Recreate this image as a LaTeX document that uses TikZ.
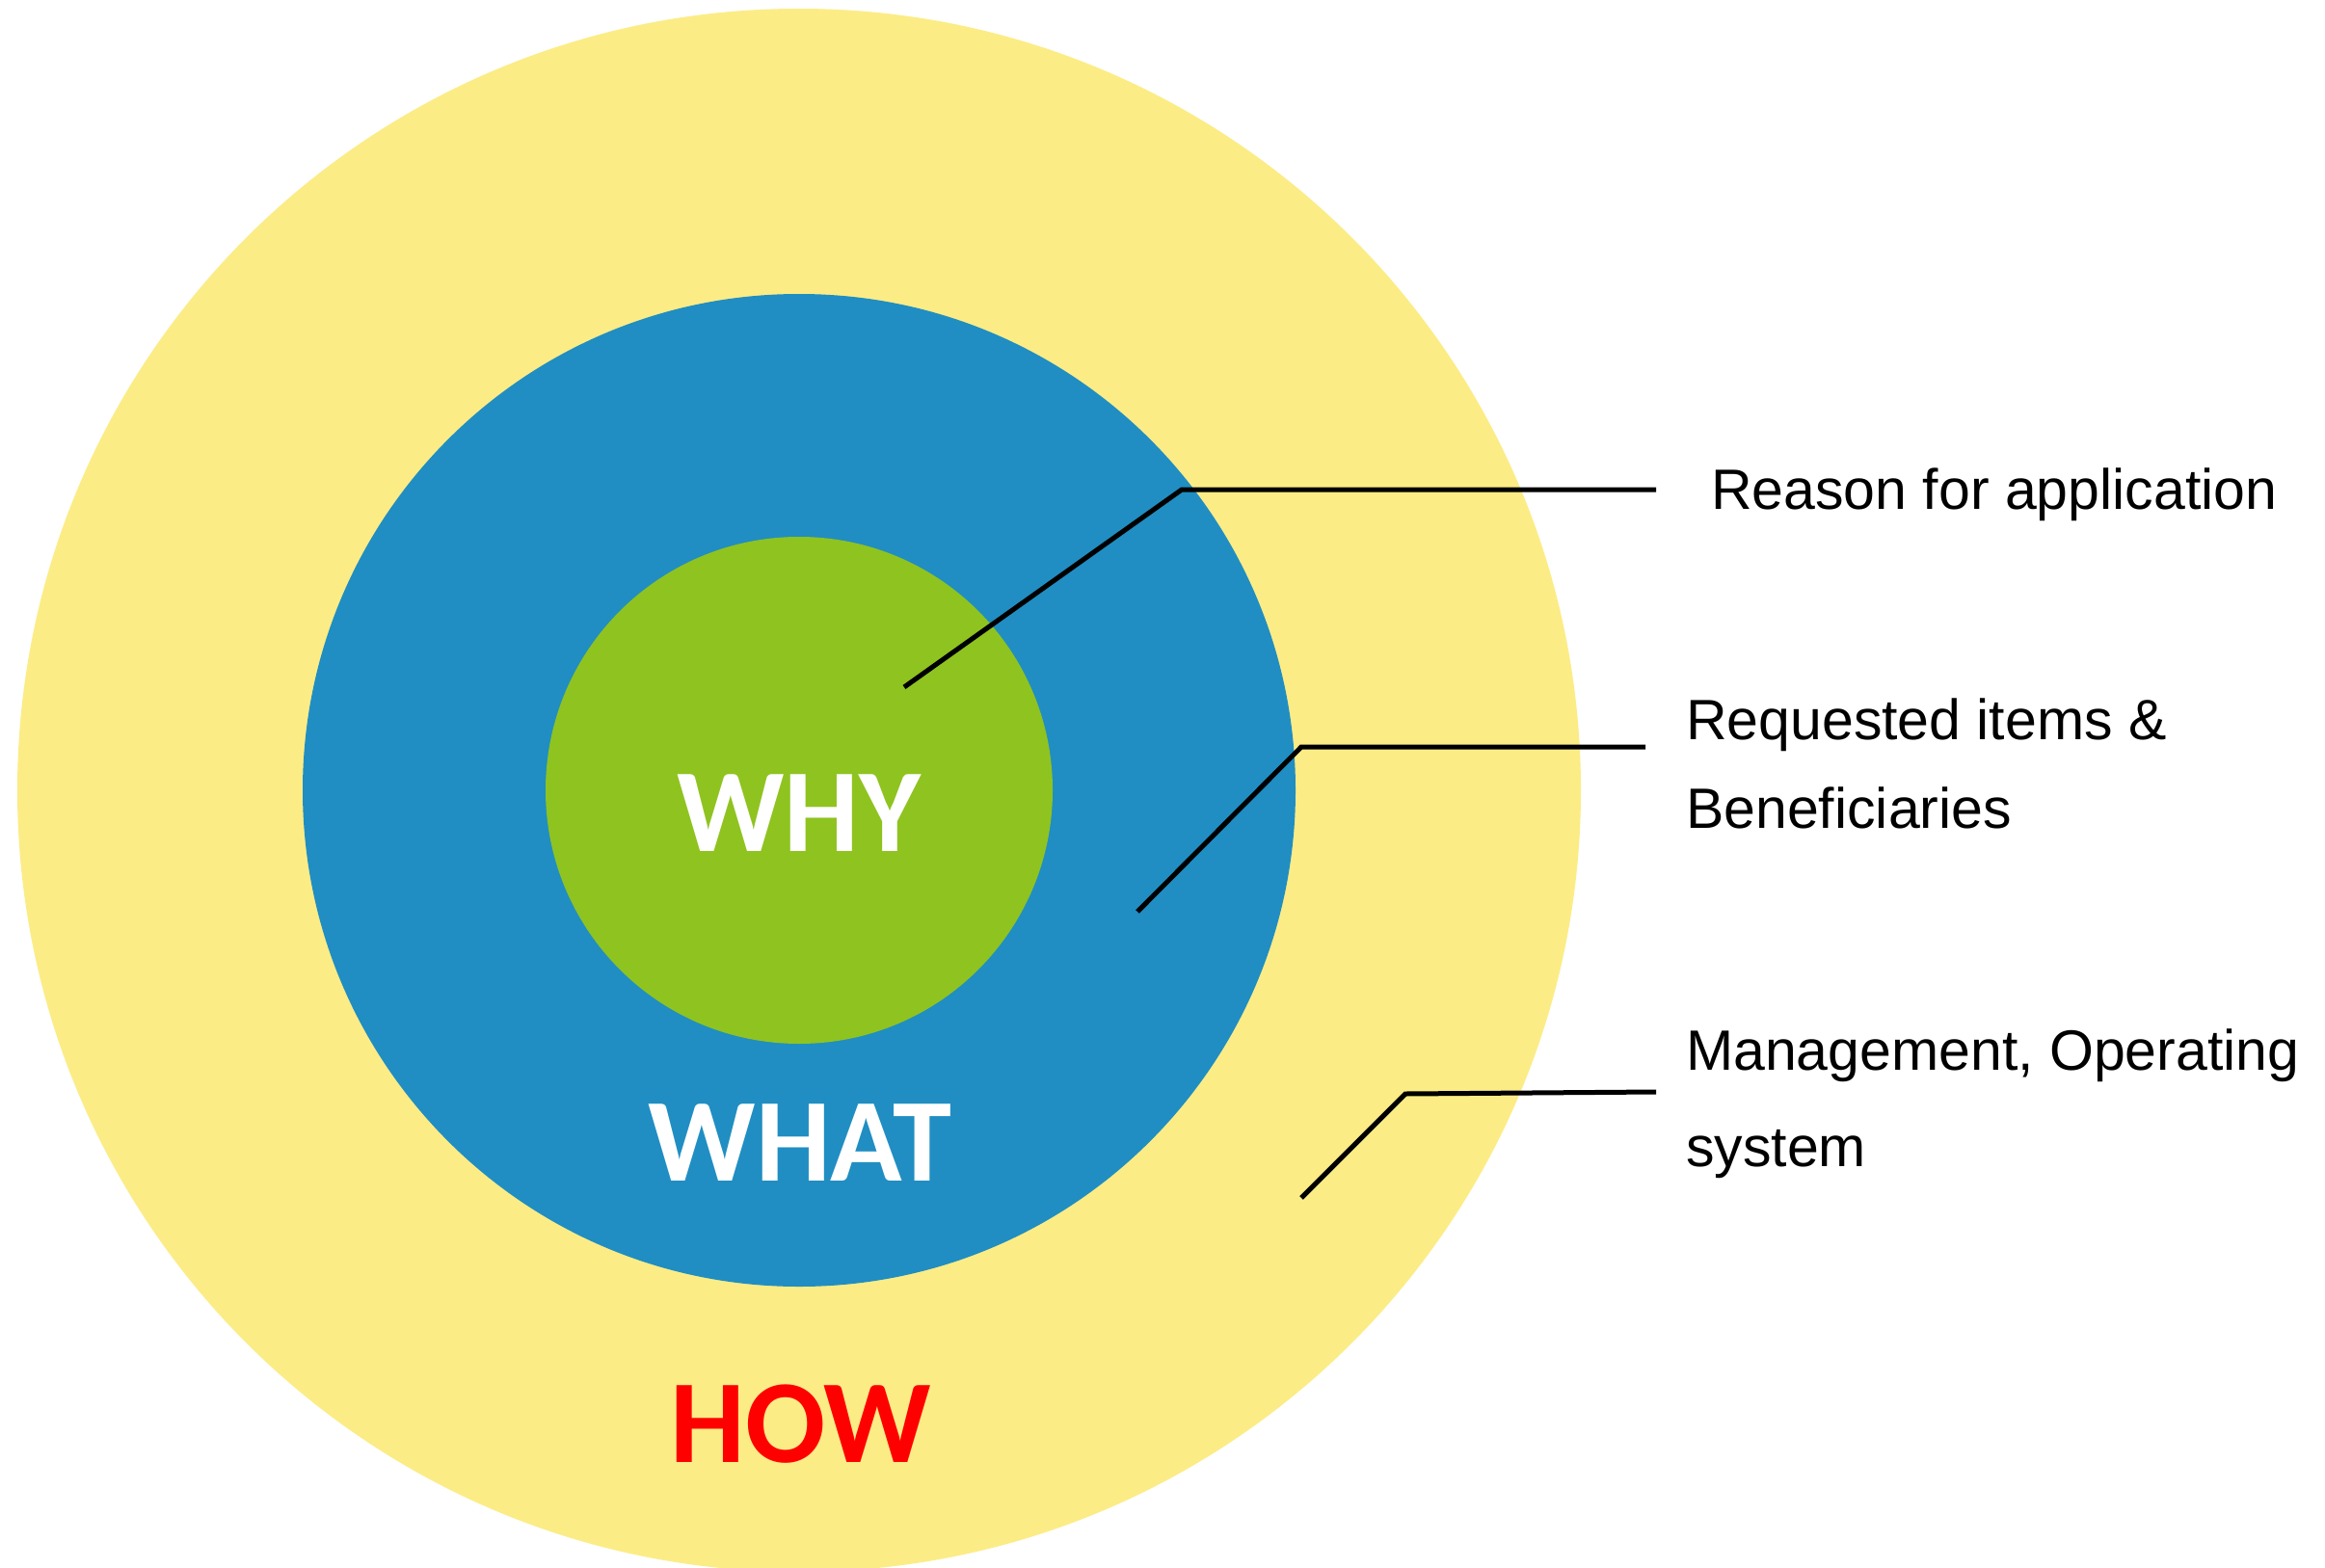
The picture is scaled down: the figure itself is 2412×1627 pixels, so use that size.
\documentclass[tikz,border=0pt]{standalone}
\usepackage{fontspec}
\setmainfont{Liberation Sans}
\newfontfamily\headfont{Carlito}
\definecolor{howyellow}{RGB}{252,236,134}
\definecolor{whatblue}{RGB}{32,142,194}
\definecolor{whygreen}{RGB}{143,195,32}
\definecolor{howred}{RGB}{255,0,0}
\tikzset{
  ring/.style={circle, inner sep=0pt, outer sep=0pt, draw=none},
  head/.style={anchor=base, inner sep=0pt, font=\headfont\bfseries\fontsize{123}{123}\selectfont},
  lab/.style={anchor=base west, inner sep=0pt, font=\fontsize{59}{70}\selectfont, text=black},
  leader/.style={draw=black, line width=5pt, line join=miter}
}
\begin{document}
\begin{tikzpicture}[x=1pt,y=-1pt]
\useasboundingbox (0,0) rectangle (2412,1627);
\fill[white] (0,0) rectangle (2412,1627);
\begin{scope}
\clip (0,0) rectangle (2412,1627);
\node[ring, fill=howyellow, minimum size=1622pt] (how) at (829,820) {};
\node[ring, fill=whatblue, minimum size=1030pt] (what) at (829,820) {};
\node[ring, fill=whygreen, minimum size=526pt] (why) at (829,820) {};
\end{scope}
\node[head, text=white] (whyt) at (829,883) {WHY};
\node[head, text=white] (whatt) at (830,1225) {WHAT};
\node[head, text=howred] (howt) at (831,1517) {HOW};
% labels
\node[lab] (l1) at (1775,528) {Reason for application};
\node[lab] (l2a) at (1749,767) {Requested items \&};
\node[lab] (l2b) at (1749,859) {Beneficiaries};
\node[lab] (l3a) at (1749,1110) {Management, Operating};
\node[lab] (l3b) at (1749,1210) {system};
% leader points
\coordinate (s1) at (938,713);
\coordinate (k1) at (1226,508);
\coordinate (e1) at (1718,508);
\coordinate (s2) at (1180,946);
\coordinate (k2) at (1350,775);
\coordinate (e2) at (1707,775);
\coordinate (s3) at (1350,1243);
\coordinate (k3) at (1458,1135);
\coordinate (e3) at (1718,1133);
\draw[leader] (s1) -- (k1) -- (e1);
\draw[leader] (s2) -- (k2) -- (e2);
\draw[leader] (s3) -- (k3) -- (e3);
\end{tikzpicture}
\end{document}
